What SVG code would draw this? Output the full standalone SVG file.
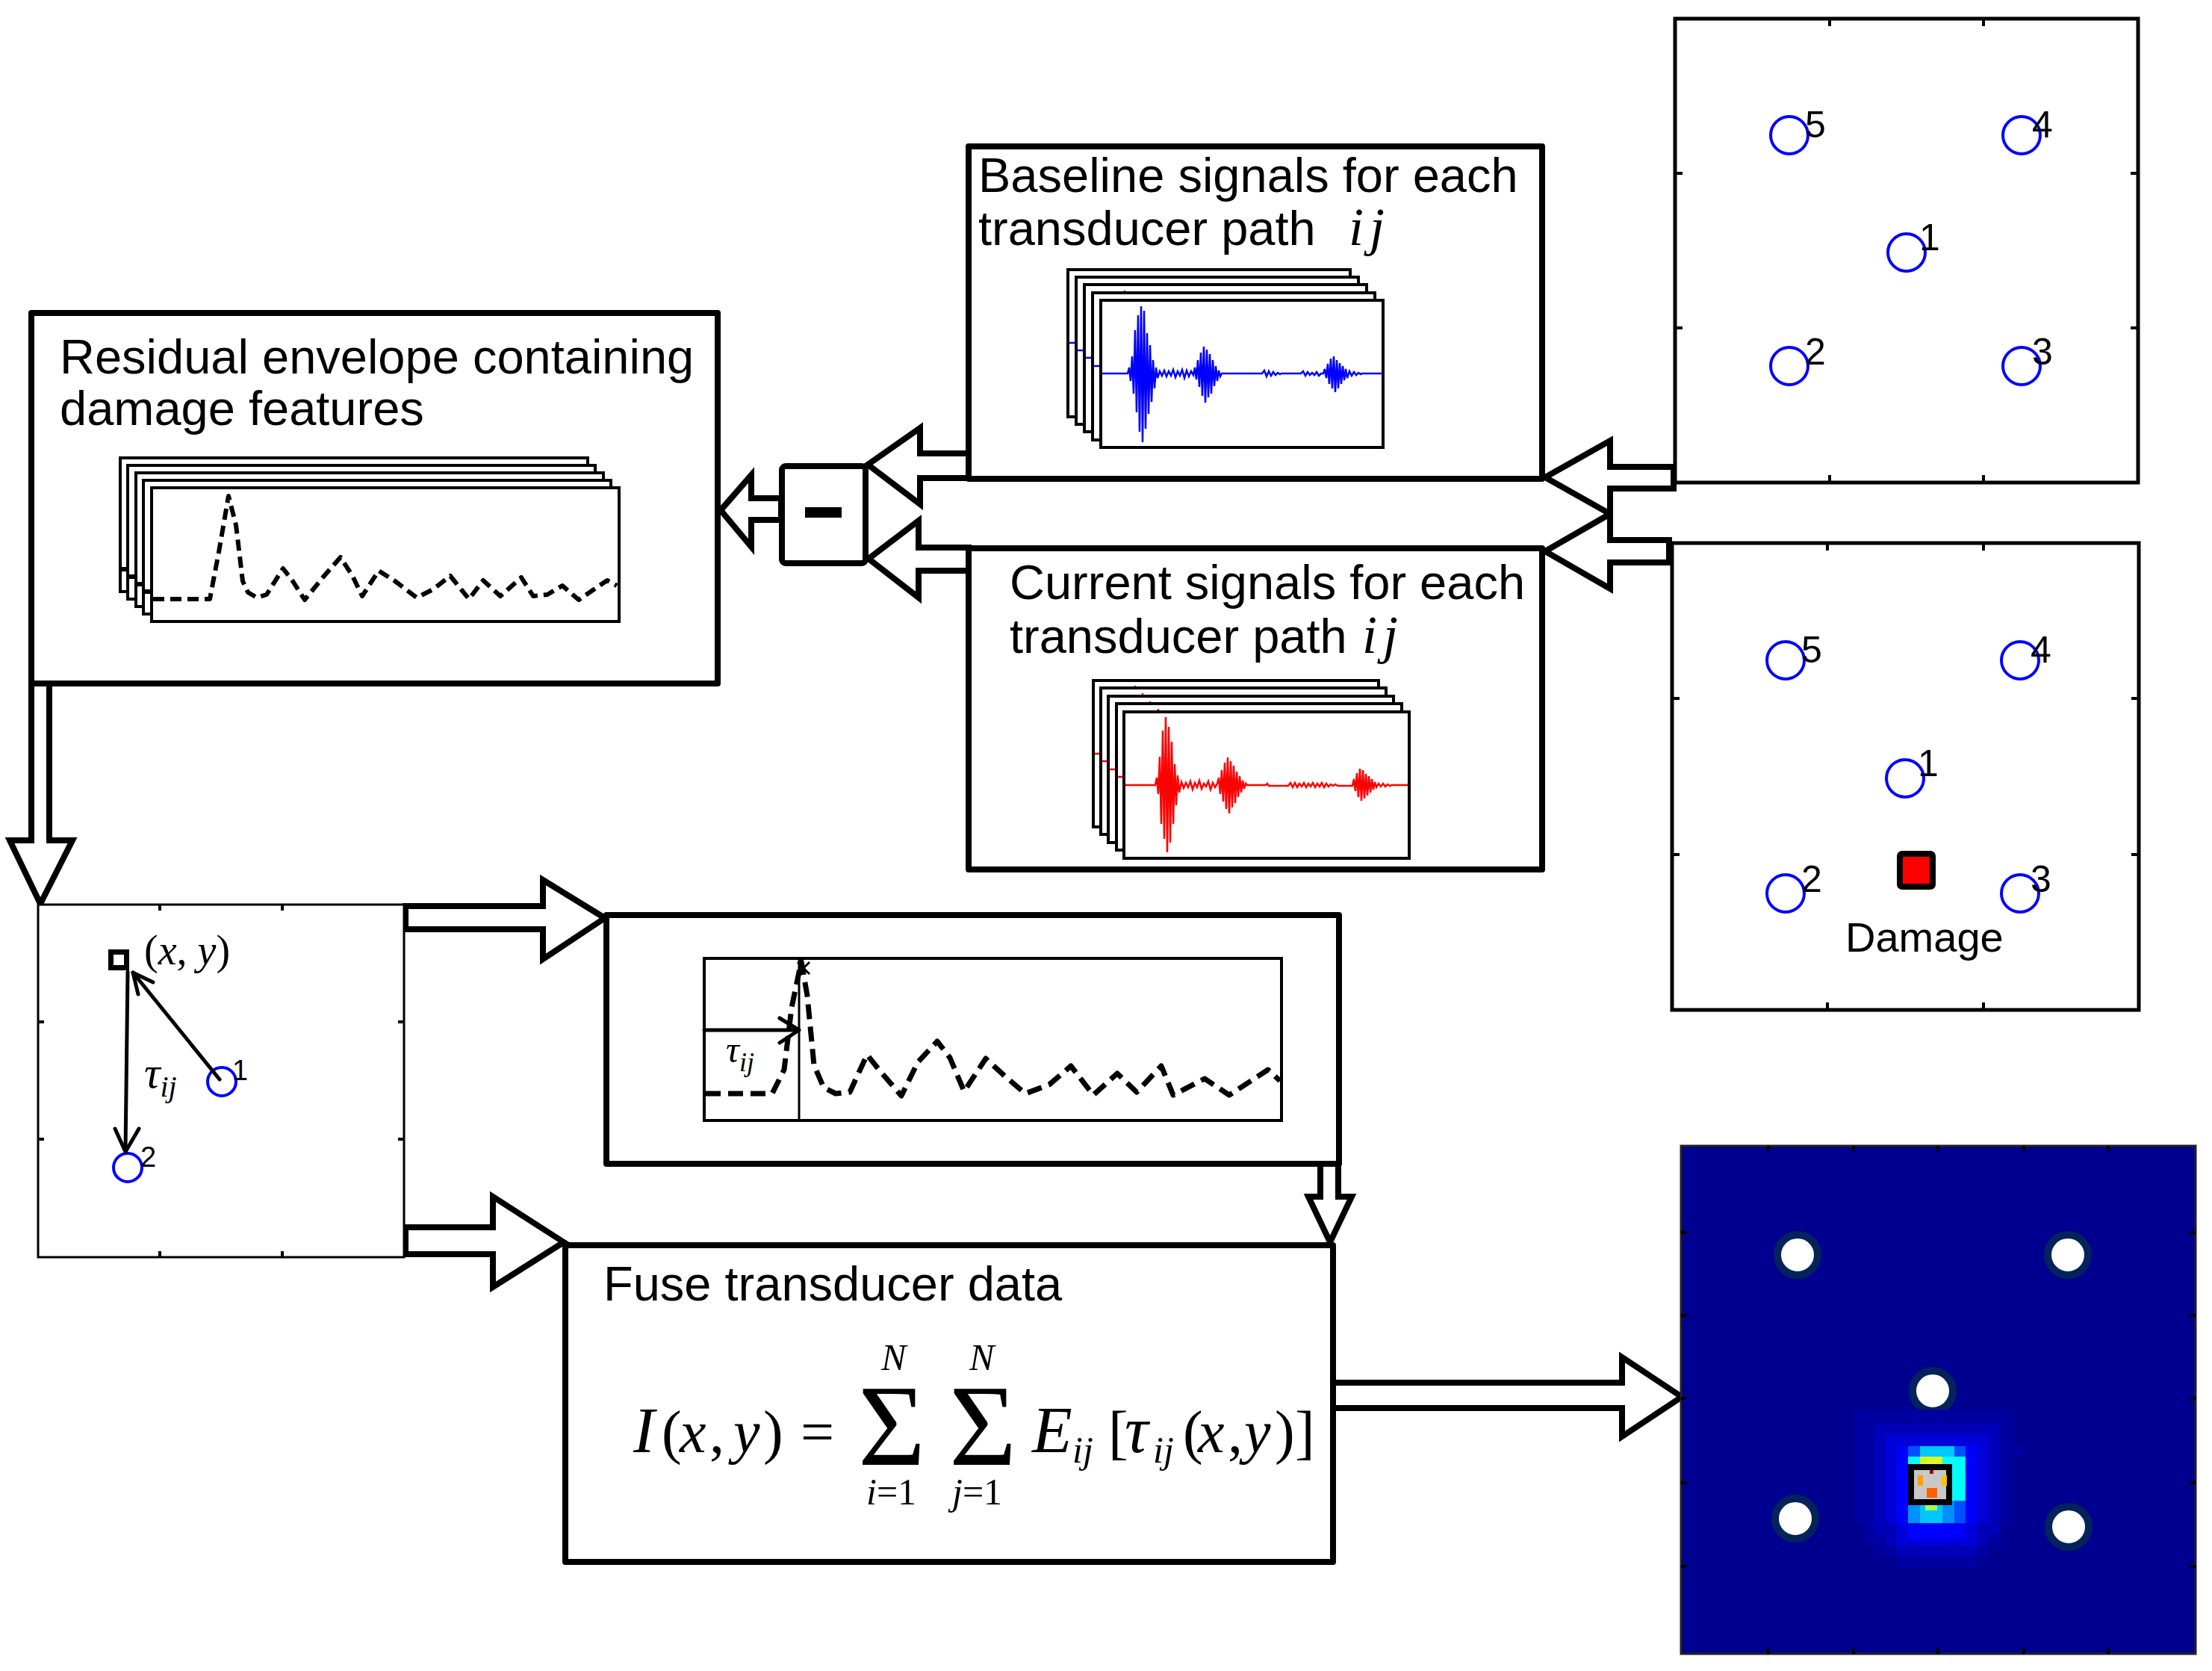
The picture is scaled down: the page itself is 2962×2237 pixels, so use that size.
<svg xmlns="http://www.w3.org/2000/svg" width="2962" height="2237" viewBox="0 0 2962 2237">
<defs>
<style>
.box{fill:#fff;stroke:#000;stroke-width:8;stroke-linejoin:round}
.arrow{fill:#fff;stroke:#000;stroke-width:8;stroke-linejoin:miter;stroke-miterlimit:10}
.t{font-family:"Liberation Sans",Arial,sans-serif;font-size:65px;fill:#000}
.dmg{font-family:"Liberation Sans",Arial,sans-serif;font-size:56px;fill:#000}
.m{font-family:"Liberation Serif","Times New Roman",serif;font-style:italic;fill:#000}
.up{font-style:normal}
.pf{fill:#fff;stroke:#000;stroke-width:5}
.pf2{fill:#fff;stroke:#000;stroke-width:3}
.tick{stroke:#000;stroke-width:4}
.sensor{fill:none;stroke:#0000ff;stroke-width:4}
.num{font-family:"Liberation Sans",Arial,sans-serif;font-size:50px;fill:#000}
.nums{font-family:"Liberation Sans",Arial,sans-serif;font-size:38px;fill:#000}
.frame{fill:#fff;stroke:#000;stroke-width:4}
.dash{fill:none;stroke:#000;stroke-width:6;stroke-dasharray:15 8;stroke-linejoin:round}
.dash2{fill:none;stroke:#000;stroke-width:7;stroke-dasharray:20 10;stroke-linejoin:round}
.ln{fill:none;stroke:#000;stroke-width:5;stroke-linecap:round;stroke-linejoin:round}
.hs{fill:#fff;stroke:#03235a;stroke-width:10}
</style>
<g id="bframe">
<rect class="frame" x="0" y="0" width="378" height="197"/>
<path fill="none" stroke="#0000ff" stroke-width="2.5" d="M2,98 H36 L38,90 L40,108 L42,75 L44,125 L46,40 L48,150 L50,20 L52,176 L54,8 L56,190 L58,14 L60,172 L62,44 L64,152 L66,60 L68,136 L70,80 L72,118 L74,90 L76,104 L79,95 L82,101 L85,94 L88,102 L91,95 L94,101 L97,93 L100,103 L103,95 L106,101 L109,93 L112,104 L115,94 L118,102 L121,95 L124,100 L126,90 L128,106 L130,80 L132,116 L134,70 L136,128 L138,62 L140,137 L142,66 L144,130 L146,72 L148,125 L150,80 L152,115 L154,88 L156,108 L158,94 L160,102 L162,98 H216 L219,94 L222,102 L225,95 L228,101 L231,96 L234,100 L237,97 L240,99 L242,98 H268 L271,95 L274,101 L277,96 L280,100 L283,97 L286,100 L289,96 L292,101 L295,98 L298,98 L300,92 L302,104 L304,85 L306,112 L308,78 L310,118 L312,75 L314,123 L316,80 L318,118 L320,84 L322,112 L324,88 L326,107 L328,92 L330,104 L333,95 L336,101 L339,96 L342,100 L345,97 L348,99 L350,98 H376"/>
</g>
<g id="cframe">
<rect class="frame" x="0" y="0" width="382" height="196"/>
<path fill="none" stroke="#ff0000" stroke-width="2.5" d="M2,98 H42 L44,88 L46,110 L48,60 L50,150 L52,25 L54,170 L56,7 L58,188 L60,20 L62,175 L64,40 L66,150 L68,70 L70,125 L72,85 L74,108 L77,94 L80,102 L83,95 L86,101 L89,93 L92,104 L95,95 L98,101 L101,92 L104,103 L107,96 L110,100 L113,93 L116,104 L119,95 L122,101 L125,96 L127,88 L129,110 L131,78 L133,120 L135,68 L137,130 L139,61 L141,136 L143,66 L145,128 L147,72 L149,122 L151,80 L153,114 L155,86 L157,108 L159,92 L161,103 L163,96 L165,98 H190 L192,96 L194,99 H220 L223,95 L226,101 L229,95 L232,101 L235,96 L238,100 L241,95 L244,101 L247,96 L250,100 L253,95 L256,101 L259,96 L262,100 L265,95 L268,101 L271,96 L274,100 L277,97 L280,99 L283,97 L286,99 H306 L308,90 L310,106 L312,82 L314,114 L316,76 L318,119 L320,78 L322,116 L324,83 L326,112 L328,86 L330,108 L332,90 L334,104 L336,94 L338,101 L341,96 L344,100 L347,96 L350,100 L353,97 L356,99 L359,98 H380"/>
</g>
<g id="eframe">
<rect class="frame" x="0" y="0" width="626" height="179"/>
<polyline class="dash" points="2,149 78,149 90,86 103,11 113,50 122,125 129,140 141,147 154,143 176,108 189,125 205,150 231,118 253,93 269,118 282,145 304,111 326,125 355,147 377,136 400,118 425,149 444,124 467,145 495,120 511,145 530,143 550,131 572,150 610,124 623,131"/>
</g>
</defs>
<rect x="0" y="0" width="2962" height="2237" fill="#fff"/>

<g id="connectors">
<polygon class="arrow" points="965,683 1006,636 1006,667 1046,667 1046,696 1006,696 1006,732"/>
<polygon class="arrow" points="1162,622 1232,573 1232,607 1297,607 1297,640 1232,640 1232,675"/>
<polygon class="arrow" points="1163,748 1230,697 1230,733 1297,733 1297,764 1230,764 1230,800"/>
<polygon class="arrow" points="2069,639 2156,590 2156,625 2241,625 2241,654 2156,654 2156,688"/>
<polygon class="arrow" points="2069,738 2156,688 2156,723 2235,723 2235,753 2156,753 2156,788"/>
<polygon class="arrow" points="42,915 42,1125 13,1125 54,1210 97,1125 66,1125 66,915"/>
<polygon class="arrow" points="810,1229 727,1178 727,1213 543,1213 543,1244 727,1244 727,1284"/>
<polygon class="arrow" points="755,1663 660,1602 660,1643 543,1643 543,1679 660,1679 660,1723"/>
<polygon class="arrow" points="1768,1558 1768,1602 1752,1602 1781,1663 1810,1602 1792,1602 1792,1558"/>
<polygon class="arrow" points="2252,1870 2172,1817 2172,1851 1785,1851 1785,1885 2172,1885 2172,1923"/>
</g>

<g id="baseline-box">
<rect class="box" x="1297" y="196" width="768" height="445"/>
<text class="t" x="1310" y="257">Baseline signals for each</text>
<text class="t" x="1310" y="328">transducer path</text>
<text class="m" x="1806" y="328" font-size="72" letter-spacing="8">ij</text>
<use href="#bframe" x="1430" y="361"/>
<use href="#bframe" x="1441" y="371"/>
<use href="#bframe" x="1452" y="381"/>
<use href="#bframe" x="1463" y="392"/>
<use href="#bframe" x="1474" y="402"/>
</g>

<g id="current-box">
<rect class="box" x="1297" y="734" width="768" height="430"/>
<text class="t" x="1352" y="802">Current signals for each</text>
<text class="t" x="1352" y="874">transducer path</text>
<text class="m" x="1824" y="874" font-size="72" letter-spacing="8">ij</text>
<use href="#cframe" x="1464" y="911"/>
<use href="#cframe" x="1474" y="921"/>
<use href="#cframe" x="1484" y="932"/>
<use href="#cframe" x="1495" y="942"/>
<use href="#cframe" x="1505" y="953"/>
</g>

<g id="residual-box">
<rect class="box" x="42" y="419" width="919" height="496"/>
<text class="t" x="80" y="500">Residual envelope containing</text>
<text class="t" x="80" y="569">damage features</text>
<use href="#eframe" x="161" y="613"/>
<use href="#eframe" x="171" y="623"/>
<use href="#eframe" x="182" y="633"/>
<use href="#eframe" x="192" y="643"/>
<use href="#eframe" x="203" y="653"/>
</g>

<g id="minus-box">
<rect class="box" x="1047" y="624" width="112" height="130" rx="5"/>
<rect x="1078" y="679" width="49" height="14" fill="#000"/>
</g>

<g id="baseline-layout">
<rect class="pf" x="2243" y="25" width="620" height="621"/>
<path class="tick" d="M2450,25v10M2656,25v10M2450,646v-10M2656,646v-10M2243,232h10M2243,439h10M2863,232h-10M2863,439h-10"/>
<circle class="sensor" cx="2396" cy="181" r="25"/>
<circle class="sensor" cx="2707" cy="181" r="25"/>
<circle class="sensor" cx="2553" cy="338" r="25"/>
<circle class="sensor" cx="2396" cy="490" r="25"/>
<circle class="sensor" cx="2707" cy="490" r="25"/>
<text class="num" x="2417" y="184">5</text>
<text class="num" x="2721" y="184">4</text>
<text class="num" x="2570" y="335">1</text>
<text class="num" x="2417" y="488">2</text>
<text class="num" x="2721" y="488">3</text>
</g>

<g id="damage-layout">
<rect class="pf" x="2239" y="727" width="625" height="625"/>
<path class="tick" d="M2447,727v10M2656,727v10M2447,1352v-10M2656,1352v-10M2239,935h10M2239,1144h10M2864,935h-10M2864,1144h-10"/>
<circle class="sensor" cx="2391" cy="884" r="25"/>
<circle class="sensor" cx="2705" cy="884" r="25"/>
<circle class="sensor" cx="2551" cy="1042" r="25"/>
<circle class="sensor" cx="2391" cy="1196" r="25"/>
<circle class="sensor" cx="2705" cy="1196" r="25"/>
<text class="num" x="2412" y="887">5</text>
<text class="num" x="2719" y="887">4</text>
<text class="num" x="2568" y="1039">1</text>
<text class="num" x="2412" y="1194">2</text>
<text class="num" x="2719" y="1194">3</text>
<rect x="2544" y="1143" width="44" height="44" rx="3" fill="#ff0000" stroke="#000" stroke-width="8"/>
<text class="dmg" x="2471" y="1274">Damage</text>
</g>

<g id="path-geometry">
<rect class="pf2" x="51" y="1211" width="490" height="472"/>
<path class="tick" stroke-width="3" d="M214,1211v8M378,1211v8M214,1683v-8M378,1683v-8M51,1368h8M51,1525h8M541,1368h-8M541,1525h-8"/>
<circle class="sensor" stroke-width="3.5" cx="297" cy="1448" r="19"/>
<circle class="sensor" stroke-width="3.5" cx="171" cy="1563" r="19"/>
<text class="nums" x="311" y="1446">1</text>
<text class="nums" x="188" y="1562">2</text>
<line class="ln" x1="294" y1="1445" x2="178" y2="1302"/>
<polyline class="ln" points="185,1331 178,1302 205,1315"/>
<line class="ln" x1="171" y1="1301" x2="168" y2="1540"/>
<polyline class="ln" points="154,1511 168,1542 186,1511"/>
<rect x="148.5" y="1274.5" width="21" height="21" fill="#fff" stroke="#000" stroke-width="7"/>
<text class="m" x="193" y="1291" font-size="56"><tspan class="up">(</tspan>x<tspan class="up">,</tspan> y<tspan class="up">)</tspan></text>
<text class="m" x="193" y="1456" font-size="60">τ<tspan font-size="40" dy="12">ij</tspan></text>
</g>

<g id="arrival-box">
<rect class="box" x="812" y="1225" width="981" height="333"/>
<rect class="frame" x="943" y="1283" width="773" height="217"/>
<line x1="1070" y1="1283" x2="1070" y2="1500" stroke="#000" stroke-width="3"/>
<polyline class="dash2" points="945,1464 1034,1464 1050,1432 1060,1349 1073,1287 1081,1333 1090,1426 1103,1456 1119,1464 1138,1462 1161,1412 1177,1432 1207,1467 1229,1422 1255,1394 1272,1416 1291,1461 1320,1417 1347,1442 1373,1464 1405,1452 1434,1427 1464,1466 1496,1437 1522,1462 1555,1427 1571,1466 1613,1444 1646,1466 1698,1432 1714,1447"/>
<line class="ln" x1="943" y1="1379" x2="1068" y2="1379"/>
<polyline class="ln" points="1044,1363 1070,1379 1044,1396"/>
<path d="M1068,1288 L1084,1304 M1084,1288 L1068,1304" stroke="#000" stroke-width="3"/>
<text class="m" x="972" y="1422" font-size="50">τ<tspan font-size="36" dy="12">ij</tspan></text>
</g>

<g id="fuse-box">
<rect class="box" x="757" y="1667" width="1028" height="424"/>
<text class="t" x="808" y="1741">Fuse transducer data</text>
<g class="m" font-size="80">
<text x="848" y="1944" font-size="86">I</text>
<text x="886" y="1944" class="up">(</text>
<text x="910" y="1944">x</text>
<text x="950" y="1944" class="up">,</text>
<text x="982" y="1944">y</text>
<text x="1022" y="1944" class="up">)</text>
<text x="1072" y="1944" class="up">=</text>
<text x="1149" y="1961" class="up" font-size="155">Σ</text>
<text x="1271" y="1961" class="up" font-size="155">Σ</text>
<text x="1180" y="1834" font-size="50">N</text>
<text x="1298" y="1834" font-size="50">N</text>
<text x="1160" y="2014" font-size="50">i<tspan class="up">=1</tspan></text>
<text x="1275" y="2014" font-size="50">j<tspan class="up">=1</tspan></text>
<text x="1382" y="1944" font-size="88">E</text>
<text x="1436" y="1958" font-size="50">ij</text>
<text x="1484" y="1944" class="up">[</text>
<text x="1506" y="1944" font-size="88">τ</text>
<text x="1544" y="1958" font-size="50">ij</text>
<text x="1584" y="1944" class="up">(</text>
<text x="1604" y="1944">x</text>
<text x="1644" y="1944" class="up">,</text>
<text x="1666" y="1944">y</text>
<text x="1707" y="1944" class="up">)</text>
<text x="1734" y="1944" class="up">]</text>
</g>
</g>

<g id="damage-image">
<rect x="2251" y="1534" width="689" height="680" fill="#000090" stroke="#222" stroke-width="3"/>
<path class="tick" stroke-width="3" d="M2368,1534v8M2482,1534v8M2595,1534v8M2710,1534v8M2823,1534v8M2368,2214v-8M2482,2214v-8M2595,2214v-8M2710,2214v-8M2823,2214v-8M2251,1650h8M2251,1761h8M2251,1872h8M2251,1985h8M2251,2097h8M2940,1650h-8M2940,1761h-8M2940,1872h-8M2940,1985h-8M2940,2097h-8"/>
<circle class="hs" cx="2407" cy="1680" r="27"/>
<circle class="hs" cx="2769" cy="1680" r="27"/>
<circle class="hs" cx="2588" cy="1862" r="27"/>
<circle class="hs" cx="2404" cy="2033" r="27"/>
<circle class="hs" cx="2770" cy="2044" r="27"/>
<g id="heat">
<rect x="2484" y="1887" width="209" height="153" fill="#0000a0"/>
<rect x="2495" y="2040" width="185" height="29" fill="#0000a0"/>
<rect x="2509" y="2069" width="154" height="15" fill="#0000a0"/>
<rect x="2540" y="2084" width="107" height="15" fill="#0000a0"/>
<rect x="2693" y="1936" width="17" height="14" fill="#0000a0"/>
<rect x="2509" y="1907" width="169" height="147" fill="#0000b8"/>
<rect x="2525" y="2054" width="138" height="15" fill="#0000b8"/>
<rect x="2540" y="2069" width="107" height="15" fill="#0000b8"/>
<rect x="2525" y="1921" width="138" height="118" fill="#0000d8"/>
<rect x="2540" y="2039" width="107" height="30" fill="#0000d8"/>
<rect x="2540" y="1936" width="107" height="103" fill="#0000ff"/>
<rect x="2555" y="2039" width="77" height="22" fill="#0000ff"/>
<rect x="2555" y="1936" width="77" height="103" fill="#0050ff"/>
<rect x="2555" y="1950" width="62" height="89" fill="#0090ff"/>
<rect x="2571" y="1936" width="46" height="14" fill="#00c8ff"/>
<rect x="2571" y="2015" width="30" height="24" fill="#00c8ff"/>
<rect x="2555" y="1950" width="77" height="15" fill="#00ffff"/>
<rect x="2614" y="1965" width="18" height="44" fill="#00ffff"/>
<rect x="2571" y="1950" width="30" height="12" fill="#d8ff20"/>
<rect x="2578" y="2015" width="16" height="7" fill="#a0ff60"/>
</g>
<rect x="2559" y="1964" width="51" height="47" fill="#c8c8c8" stroke="#000" stroke-width="8"/>
<rect x="2580" y="1992" width="14" height="13" fill="#ff6000"/>
<rect x="2568" y="1975" width="7" height="14" fill="#ffa000"/>
<rect x="2600" y="1975" width="7" height="14" fill="#ffc000"/>
<rect x="2584" y="1968" width="5" height="5" fill="#a00000"/>
</g>
</svg>
